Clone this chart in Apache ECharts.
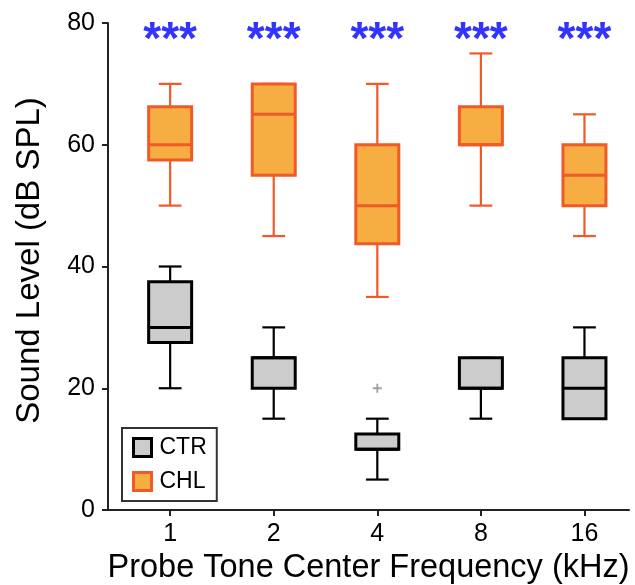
<!DOCTYPE html>
<html lang="en">
<head>
<meta charset="utf-8">
<script src="https://cdn.jsdelivr.net/npm/echarts@6/dist/echarts.min.js"></script>
<style>
    html, body { margin: 0; padding: 0; background: #fff; }
    #main { width: 635px; height: 585px; }
</style>
</head>
<body>
<div id="main"></div>
<script>
    // probe tone center frequencies (kHz)
    var freqLabels = ['1', '2', '4', '8', '16'];

    // box stats per frequency: [min, Q1, median, Q3, max]
    var ctrStats = [
        [20, 27.5, 30, 37.5, 40],
        [15, 20, 25, 25, 30],
        [5, 10, 10, 12.5, 15],
        [15, 20, 20, 25, 25],
        [15, 15, 20, 25, 30]
    ];
    var chlStats = [
        [50, 57.5, 60, 66.25, 70],
        [45, 55, 65, 70, 70],
        [35, 43.75, 50, 60, 70],
        [50, 60, 60, 66.25, 75],
        [45, 50, 55, 60, 65]
    ];

    // outliers: [frequency index, value]
    var ctrOutliers = [[2, 20]];

    // significance markers above each frequency
    var sigLabels = ['***', '***', '***', '***', '***'];
    var sigLevel = 77;

    var FONT = 'Liberation Sans';

    function withIndex(stats) {
        return stats.map(function (s, i) { return [i].concat(s); });
    }

    function boxRenderer(fill, stroke) {
        return function (params, api) {
            var x = api.value(0);
            var lo = api.coord([x, api.value(1)]);
            var q1 = api.coord([x, api.value(2)]);
            var md = api.coord([x, api.value(3)]);
            var q3 = api.coord([x, api.value(4)]);
            var hi = api.coord([x, api.value(5)]);
            var unit = api.size([1, 0])[0];
            var bw = unit * 0.415 / 2;
            var cw = unit * 0.22 / 2;
            var cx = lo[0];
            var wStyle = { stroke: stroke, lineWidth: 2.2 };
            return {
                type: 'group',
                children: [
                    { type: 'line', shape: { x1: cx, y1: q3[1], x2: cx, y2: hi[1] }, style: wStyle },
                    { type: 'line', shape: { x1: cx, y1: q1[1], x2: cx, y2: lo[1] }, style: wStyle },
                    { type: 'line', shape: { x1: cx - cw, y1: hi[1], x2: cx + cw, y2: hi[1] }, style: wStyle },
                    { type: 'line', shape: { x1: cx - cw, y1: lo[1], x2: cx + cw, y2: lo[1] }, style: wStyle },
                    {
                        type: 'rect',
                        shape: { x: cx - bw, y: q3[1], width: bw * 2, height: q1[1] - q3[1] },
                        style: { fill: fill, stroke: stroke, lineWidth: 3 }
                    },
                    { type: 'line', shape: { x1: cx - bw, y1: md[1], x2: cx + bw, y2: md[1] }, style: { stroke: stroke, lineWidth: 3 } }
                ]
            };
        };
    }

    var chart = echarts.init(document.getElementById('main'));
    chart.setOption({
        animation: false,
        textStyle: { fontFamily: FONT },
        grid: { left: 108, right: 6, top: 23, bottom: 75, outerBoundsMode: 'none' },
        legend: {
            orient: 'vertical',
            left: 122,
            top: 428,
            padding: [8, 10, 8, 10],
            itemGap: 11,
            itemWidth: 18,
            itemHeight: 18,
            borderColor: '#333',
            borderWidth: 2,
            textStyle: { fontSize: 23, color: '#000', fontFamily: FONT, padding: [0, 0, 0, 3] },
            data: [
                { name: 'CTR', icon: 'rect', itemStyle: { color: '#cccccc', borderColor: '#000', borderWidth: 3 } },
                { name: 'CHL', icon: 'rect', itemStyle: { color: '#f6ad42', borderColor: '#f05a28', borderWidth: 3 } }
            ]
        },
        xAxis: {
            type: 'value',
            min: -0.6,
            max: 4.43,
            name: 'Probe Tone Center Frequency (kHz)',
            nameLocation: 'middle',
            nameGap: 38,
            nameTextStyle: { fontSize: 32.5, color: '#000', fontFamily: FONT },
            axisLine: { onZero: false, lineStyle: { color: '#222', width: 2 } },
            axisTick: { customValues: [0, 1, 2, 3, 4], length: 6, lineStyle: { color: '#222', width: 2 } },
            axisLabel: {
                customValues: [0, 1, 2, 3, 4],
                fontSize: 25,
                color: '#000',
                margin: 12,
                formatter: function (v) { return freqLabels[Math.round(v)]; }
            },
            splitLine: { show: false }
        },
        yAxis: {
            type: 'value',
            min: 0,
            max: 80,
            interval: 20,
            name: 'Sound Level (dB SPL)',
            nameLocation: 'middle',
            nameGap: 62,
            nameTextStyle: { fontSize: 33, color: '#000', fontFamily: FONT, padding: [0, 0, 0, 12] },
            axisLine: { show: true, onZero: false, lineStyle: { color: '#222', width: 2 } },
            axisTick: { show: true, length: 6, lineStyle: { color: '#222', width: 2 } },
            axisLabel: { fontSize: 25, color: '#000', margin: 13 },
            splitLine: { show: false }
        },
        series: [
            {
                name: 'CTR',
                type: 'custom',
                renderItem: boxRenderer('#cccccc', '#000000'),
                itemStyle: { color: '#cccccc', borderColor: '#000' },
                encode: { x: 0, y: [1, 2, 3, 4, 5] },
                data: withIndex(ctrStats)
            },
            {
                name: 'CHL',
                type: 'custom',
                renderItem: boxRenderer('#f6ad42', '#f05a28'),
                itemStyle: { color: '#f6ad42', borderColor: '#f05a28' },
                encode: { x: 0, y: [1, 2, 3, 4, 5] },
                data: withIndex(chlStats)
            },
            {
                name: 'outlier',
                type: 'scatter',
                symbol: 'path://M4,0 L6,0 L6,4 L10,4 L10,6 L6,6 L6,10 L4,10 L4,6 L0,6 L0,4 L4,4 Z',
                symbolSize: 9,
                itemStyle: { color: '#888' },
                data: ctrOutliers
            },
            {
                name: 'sig',
                type: 'scatter',
                symbolSize: 1,
                itemStyle: { color: 'transparent' },
                label: {
                    show: true,
                    position: 'inside',
                    formatter: function (p) { return sigLabels[p.dataIndex]; },
                    fontSize: 46,
                    fontWeight: 'bold',
                    color: '#0000ff',
                    fontFamily: FONT
                },
                data: sigLabels.map(function (s, i) { return [i, sigLevel]; })
            }
        ]
    });
</script>
</body>
</html>
